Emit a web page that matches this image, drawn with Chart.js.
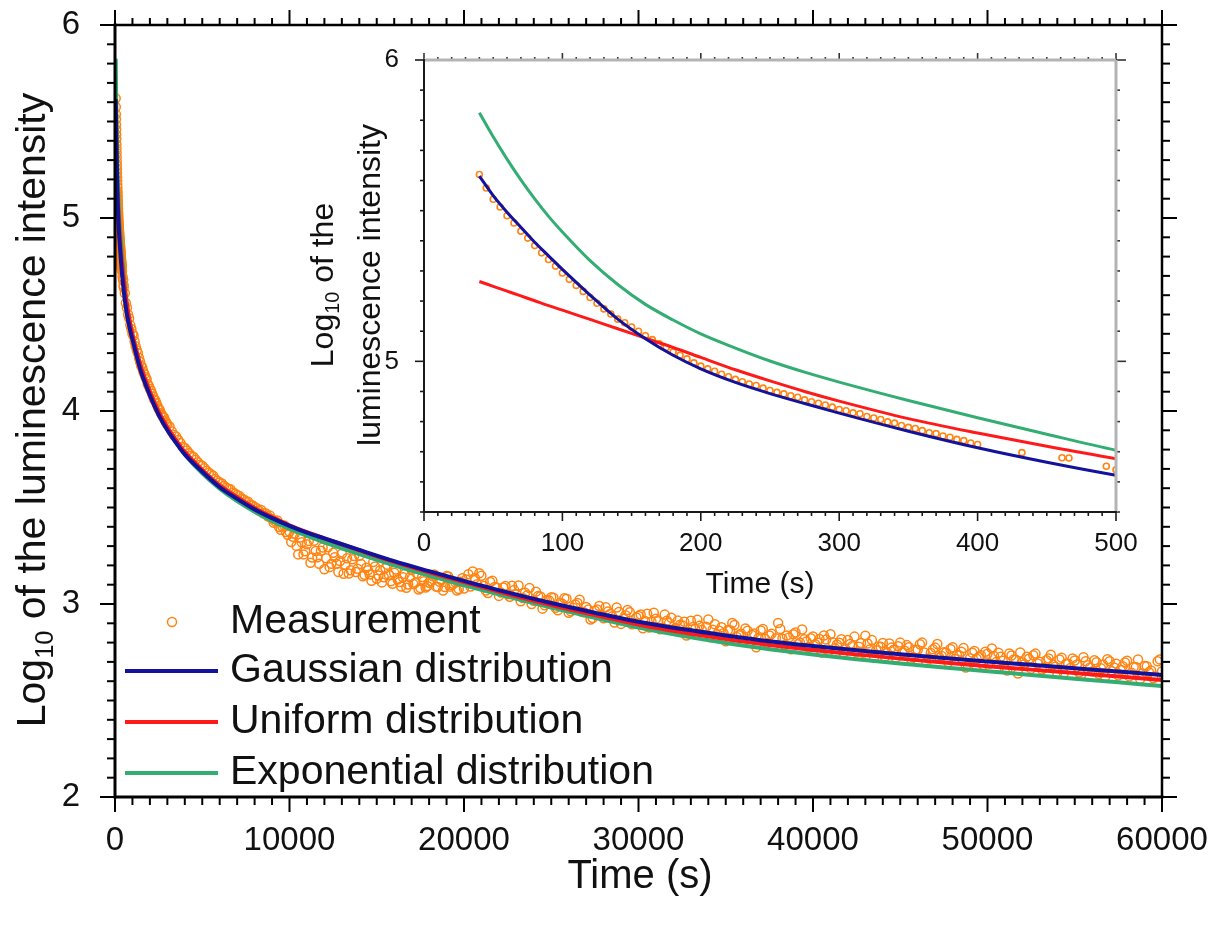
<!DOCTYPE html>
<html>
<head>
<meta charset="utf-8">
<title>Luminescence decay</title>
<script src="https://cdn.jsdelivr.net/npm/chart.js@4.4.1/dist/chart.umd.min.js"></script>
<style>
  body { margin: 0; background: #fff; }
  #wrap { position: relative; width: 1216px; height: 926px; }
  #mainChart { position: absolute; left: 0; top: 0; }
  #insetChart { position: absolute; left: 300px; top: 20px; }
</style>
</head>
<body>
<div id="wrap">
  <canvas id="mainChart" width="1216" height="926"></canvas>
  <canvas id="insetChart" width="880" height="600"></canvas>
</div>
<script>
// Fitted curves (log10 of intensity)
const fitTime = [40, 50, 60, 70, 80, 90, 100, 120, 140, 160, 180, 200, 225, 250, 275, 300, 350, 400, 450, 500,
  600, 700, 850, 1000, 1250, 1500, 2000, 2500, 3000, 3500, 4000, 5000, 6000, 7000, 8000, 9000, 10000,
  11000, 12000, 14000, 16000, 18000, 20000,
  22500, 25000, 27500, 30000, 32500, 35000, 37500, 40000, 42500, 45000, 47500, 50000, 52500, 55000, 57500, 60000];

const gaussianFit = [5.615, 5.55, 5.495, 5.445, 5.395, 5.35, 5.305, 5.22, 5.14, 5.075, 5.02, 4.975, 4.93, 4.893, 4.86, 4.828, 4.768, 4.713, 4.665, 4.622,
  4.55, 4.49, 4.425, 4.37, 4.28, 4.2, 4.08, 3.98, 3.9, 3.835, 3.775, 3.685, 3.605, 3.545, 3.49, 3.445, 3.405,
  3.37, 3.34, 3.28, 3.222, 3.17, 3.12,
  3.06, 3.005, 2.955, 2.908, 2.87, 2.837, 2.807, 2.782, 2.76, 2.74, 2.72, 2.702, 2.685, 2.667, 2.65, 2.632];

const uniformFit = [5.265, 5.249, 5.233, 5.217, 5.201, 5.185, 5.17, 5.139, 5.108, 5.077, 5.046, 5.013, 4.972, 4.935, 4.9, 4.868, 4.81, 4.762, 4.718, 4.677,
  4.605, 4.54, 4.46, 4.395, 4.305, 4.225, 4.1, 3.997, 3.915, 3.848, 3.788, 3.695, 3.615, 3.553, 3.497, 3.45, 3.408,
  3.372, 3.34, 3.278, 3.218, 3.164, 3.113,
  3.052, 2.995, 2.943, 2.894, 2.853, 2.818, 2.788, 2.762, 2.739, 2.717, 2.697, 2.678, 2.66, 2.642, 2.624, 2.606];

const exponentialFit = [5.825, 5.745, 5.671, 5.602, 5.539, 5.481, 5.429, 5.334, 5.255, 5.189, 5.137, 5.091, 5.044, 5.001, 4.964, 4.931, 4.87, 4.813, 4.758, 4.705,
  4.615, 4.54, 4.46, 4.395, 4.30, 4.222, 4.095, 3.993, 3.907, 3.836, 3.775, 3.677, 3.598, 3.533, 3.478, 3.43, 3.39,
  3.353, 3.32, 3.258, 3.2, 3.147, 3.097,
  3.038, 2.982, 2.928, 2.878, 2.835, 2.798, 2.766, 2.738, 2.714, 2.692, 2.671, 2.652, 2.632, 2.613, 2.594, 2.575];

// Measured points, first pass
const measTime = [40, 45, 50, 55, 60, 65, 70, 75, 80, 85, 90, 95, 100, 105, 110, 115, 120, 125, 130, 135,
  140, 145, 150, 155, 160, 165, 170, 175, 180, 185, 190, 195, 200, 205, 210, 215, 220, 225, 230, 235,
  240, 245, 250, 255, 260, 265, 270, 275, 280, 285, 290, 295, 300, 305, 310, 315, 320, 325, 330, 335,
  340, 345, 350, 355, 360, 365, 370, 375, 380, 385, 390, 395, 400, 432, 461, 466, 493,
  500, 625, 750, 875, 1000, 1125, 1250, 1375, 1500, 1625, 1750, 1875, 2000, 2125, 2250, 2375, 2500, 2625, 2750, 2875, 3000,
  3250, 3500, 3750, 4000, 4250, 4500, 4750, 5000, 5250, 5500, 5750, 6000, 6250, 6500, 6750, 7000, 7250, 7500, 7750, 8000,
  8250, 8500, 8750, 9000,
  9200, 9400, 9600, 9800, 10000, 10200, 10400, 10600, 10800, 11000, 11200, 11400, 11600, 11800, 12000,
  12200, 12400, 12600, 12800, 13000, 13200, 13400, 13600, 13800, 14000, 14200, 14400, 14600, 14800, 15000,
  15200, 15400, 15600, 15800, 16000, 16200, 16400, 16600, 16800, 17000, 17200, 17400, 17600, 17800, 18000,
  18200, 18400, 18600, 18800, 19000, 19200, 19400, 19600, 19800, 20000,
  20250, 20500, 20750, 21000, 21250, 21500, 21750, 22000, 22250, 22500, 22750, 23000, 23250, 23500, 23750, 24000,
  24250, 24500, 24750, 25000, 25250, 25500, 25750, 26000, 26250, 26500, 26750, 27000, 27250, 27500, 27750, 28000,
  28250, 28500, 28750, 29000, 29250, 29500, 29750, 30000, 30250, 30500, 30750, 31000, 31250, 31500, 31750, 32000,
  32250, 32500, 32750, 33000, 33250, 33500, 33750, 34000, 34250, 34500, 34750, 35000, 35250, 35500, 35750, 36000,
  36250, 36500, 36750, 37000, 37250, 37500, 37750, 38000, 38250, 38500, 38750, 39000, 39250, 39500, 39750, 40000,
  40250, 40500, 40750, 41000, 41250, 41500, 41750, 42000, 42250, 42500, 42750, 43000, 43250, 43500, 43750, 44000,
  44250, 44500, 44750, 45000, 45250, 45500, 45750, 46000, 46250, 46500, 46750, 47000, 47250, 47500, 47750, 48000,
  48250, 48500, 48750, 49000, 49250, 49500, 49750, 50000, 50250, 50500, 50750, 51000, 51250, 51500, 51750, 52000,
  52250, 52500, 52750, 53000, 53250, 53500, 53750, 54000, 54250, 54500, 54750, 55000, 55250, 55500, 55750, 56000,
  56250, 56500, 56750, 57000, 57250, 57500, 57750, 58000, 58250, 58500, 58750, 59000, 59250, 59500, 59750, 60000];

const measLog = [5.620, 5.575, 5.538, 5.512, 5.483, 5.459, 5.432, 5.409, 5.384, 5.360,
  5.338, 5.316, 5.293, 5.272, 5.252, 5.232, 5.212, 5.193, 5.174, 5.157,
  5.140, 5.128, 5.114, 5.100, 5.085, 5.072, 5.058, 5.046, 5.031, 5.020,
  5.008, 4.995, 4.984, 4.975, 4.967, 4.957, 4.949, 4.940, 4.932, 4.925,
  4.920, 4.911, 4.903, 4.897, 4.892, 4.886, 4.881, 4.872, 4.866, 4.861,
  4.855, 4.848, 4.840, 4.836, 4.829, 4.826, 4.817, 4.812, 4.807, 4.799,
  4.795, 4.787, 4.781, 4.777, 4.770, 4.763, 4.760, 4.752, 4.748, 4.741,
  4.737, 4.729, 4.724, 4.697, 4.680, 4.679, 4.652,
  4.64, 4.56, 4.50, 4.445, 4.40, 4.36, 4.315, 4.275, 4.235, 4.205, 4.175, 4.14, 4.115, 4.09, 4.06, 4.04, 4.012, 3.99, 3.972, 3.95, 3.93,
  3.895, 3.868, 3.834, 3.808, 3.781, 3.762, 3.735, 3.716, 3.690, 3.672, 3.648, 3.630, 3.612, 3.597, 3.578, 3.565, 3.546, 3.532, 3.514, 3.502,
  3.484, 3.470, 3.455, 3.441,
  3.427, 3.399, 3.401, 3.373, 3.375, 3.348, 3.301, 3.344, 3.257, 3.31, 3.214, 3.328, 3.242, 3.276, 3.18,
  3.294, 3.208, 3.242, 3.166, 3.26, 3.204, 3.158, 3.232, 3.166, 3.25, 3.144, 3.188, 3.153, 3.217, 3.131,
  3.175, 3.139, 3.204, 3.118, 3.162, 3.127, 3.091, 3.156, 3.101, 3.176, 3.11, 3.075, 3.14, 3.085, 3.11,
  3.145, 3.09, 3.115, 3.07, 3.145, 3.09, 3.105, 3.07, 3.115, 3.08,
  3.154, 3.168, 3.102, 3.146, 3.070, 3.114, 3.088, 3.042, 3.086, 3.050, 3.095, 3.049, 3.014, 3.058, 3.083, 3.017,
  3.042, 2.976, 3.021, 3.035, 2.980, 3.005, 3.030, 2.955, 2.980, 3.005, 2.960, 2.985, 2.920, 2.965, 2.990, 2.926,
  2.961, 2.936, 2.982, 2.897, 2.942, 2.957, 2.903, 2.938, 2.874, 2.950, 2.907, 2.923, 2.869, 2.945, 2.901, 2.868,
  2.914, 2.890, 2.837, 2.913, 2.870, 2.887, 2.834, 2.920, 2.867, 2.844, 2.880, 2.807, 2.864, 2.891, 2.838, 2.805,
  2.862, 2.839, 2.776, 2.863, 2.820, 2.837, 2.785, 2.902, 2.820, 2.837, 2.765, 2.852, 2.800, 2.817, 2.775, 2.832,
  2.800, 2.748, 2.816, 2.843, 2.771, 2.799, 2.747, 2.814, 2.782, 2.750, 2.798, 2.836, 2.764, 2.722, 2.780, 2.798,
  2.746, 2.774, 2.722, 2.800, 2.758, 2.776, 2.724, 2.762, 2.800, 2.698, 2.746, 2.774, 2.722, 2.750, 2.698, 2.776,
  2.735, 2.753, 2.671, 2.719, 2.757, 2.726, 2.684, 2.742, 2.770, 2.699, 2.727, 2.665, 2.744, 2.712, 2.640, 2.698,
  2.727, 2.665, 2.743, 2.701, 2.670, 2.718, 2.686, 2.644, 2.722, 2.691, 2.669, 2.707, 2.645, 2.724, 2.682, 2.650,
  2.698, 2.667, 2.625, 2.703, 2.671, 2.630, 2.678, 2.706, 2.644, 2.673, 2.611, 2.679, 2.647, 2.615, 2.704, 2.652];

// Measured points, in-between samples
const measTimeB = [562, 687, 812, 937, 1062, 1187, 1312, 1437, 1562, 1687, 1812, 1937, 2062, 2187, 2312, 2437, 2562, 2687, 2812, 2937,
  3125, 3375, 3625, 3875, 4125, 4375, 4625, 4875, 5125, 5375, 5625, 5875, 6125, 6375, 6625, 6875, 7125, 7375, 7625, 7875,
  8125, 8375, 8625, 8875,
  9100, 9300, 9500, 9700, 9900, 10100, 10300, 10500, 10700, 10900, 11100, 11300, 11500, 11700, 11900,
  12100, 12300, 12500, 12700, 12900, 13100, 13300, 13500, 13700, 13900, 14100, 14300, 14500, 14700, 14900,
  15100, 15300, 15500, 15700, 15900, 16100, 16300, 16500, 16700, 16900, 17100, 17300, 17500, 17700, 17900,
  18100, 18300, 18500, 18700, 18900, 19100, 19300, 19500, 19700, 19900,
  20125, 20375, 20625, 20875, 21125, 21375, 21625, 21875, 22125, 22375, 22625, 22875, 23125, 23375, 23625, 23875,
  24125, 24375, 24625, 24875, 25125, 25375, 25625, 25875, 26125, 26375, 26625, 26875, 27125, 27375, 27625, 27875,
  28125, 28375, 28625, 28875, 29125, 29375, 29625, 29875, 30125, 30375, 30625, 30875, 31125, 31375, 31625, 31875,
  32125, 32375, 32625, 32875, 33125, 33375, 33625, 33875, 34125, 34375, 34625, 34875, 35125, 35375, 35625, 35875,
  36125, 36375, 36625, 36875, 37125, 37375, 37625, 37875, 38125, 38375, 38625, 38875, 39125, 39375, 39625, 39875,
  40125, 40375, 40625, 40875, 41125, 41375, 41625, 41875, 42125, 42375, 42625, 42875, 43125, 43375, 43625, 43875,
  44125, 44375, 44625, 44875, 45125, 45375, 45625, 45875, 46125, 46375, 46625, 46875, 47125, 47375, 47625, 47875,
  48125, 48375, 48625, 48875, 49125, 49375, 49625, 49875, 50125, 50375, 50625, 50875, 51125, 51375, 51625, 51875,
  52125, 52375, 52625, 52875, 53125, 53375, 53625, 53875, 54125, 54375, 54625, 54875, 55125, 55375, 55625, 55875,
  56125, 56375, 56625, 56875, 57125, 57375, 57625, 57875, 58125, 58375, 58625, 58875, 59125, 59375, 59625, 59875];

const measLogB = [4.61, 4.535, 4.48, 4.425, 4.39, 4.335, 4.30, 4.255, 4.225, 4.19, 4.165, 4.13, 4.105, 4.075, 4.055, 4.025, 4.005, 3.98, 3.965, 3.94,
  3.92, 3.876, 3.85, 3.815, 3.795, 3.768, 3.748, 3.722, 3.703, 3.68, 3.665, 3.638, 3.625, 3.603, 3.594, 3.572, 3.56, 3.542, 3.53, 3.512,
  3.496, 3.487, 3.47, 3.458,
  3.421, 3.433, 3.385, 3.407, 3.359, 3.321, 3.364, 3.257, 3.32, 3.273, 3.327, 3.241, 3.275, 3.209, 3.293,
  3.237, 3.191, 3.265, 3.209, 3.223, 3.157, 3.237, 3.175, 3.249, 3.183, 3.207, 3.151, 3.175, 3.12, 3.194,
  3.148, 3.112, 3.186, 3.151, 3.105, 3.179, 3.114, 3.139, 3.084, 3.138, 3.103, 3.158, 3.083, 3.118, 3.093,
  3.118, 3.153, 3.088, 3.123, 3.088, 3.143, 3.098, 3.113, 3.078, 3.133,
  3.127, 3.091, 3.135, 3.159, 3.093, 3.057, 3.121, 3.085, 3.059, 3.093, 3.037, 3.072, 3.096, 3.031, 3.045, 3.000,
  3.064, 3.039, 2.993, 3.018, 3.032, 2.967, 3.002, 3.027, 2.962, 2.997, 3.022, 2.957, 2.972, 2.927, 2.972, 2.938,
  2.983, 2.948, 2.904, 2.959, 2.924, 2.969, 2.895, 2.930, 2.946, 2.912, 2.878, 2.955, 2.911, 2.877, 2.913, 2.929,
  2.876, 2.892, 2.908, 2.855, 2.881, 2.918, 2.865, 2.882, 2.828, 2.895, 2.862, 2.848, 2.865, 2.902, 2.829, 2.846,
  2.873, 2.800, 2.847, 2.824, 2.871, 2.798, 2.846, 2.823, 2.871, 2.788, 2.826, 2.843, 2.791, 2.868, 2.806, 2.823,
  2.791, 2.819, 2.837, 2.754, 2.802, 2.790, 2.818, 2.765, 2.793, 2.831, 2.779, 2.747, 2.795, 2.813, 2.761, 2.779,
  2.727, 2.795, 2.763, 2.781, 2.749, 2.787, 2.715, 2.763, 2.791, 2.749, 2.717, 2.765, 2.793, 2.731, 2.749, 2.767,
  2.715, 2.734, 2.772, 2.680, 2.748, 2.716, 2.735, 2.753, 2.691, 2.730, 2.748, 2.706, 2.655, 2.733, 2.711, 2.749,
  2.688, 2.716, 2.734, 2.692, 2.660, 2.709, 2.737, 2.675, 2.713, 2.642, 2.690, 2.718, 2.686, 2.635, 2.703, 2.671,
  2.709, 2.638, 2.686, 2.714, 2.652, 2.691, 2.659, 2.697, 2.625, 2.674, 2.712, 2.640, 2.678, 2.656, 2.625, 2.713];

// Tick labels
const mainXTicks = [0, 10000, 20000, 30000, 40000, 50000, 60000];
const mainYTicks = [2, 3, 4, 5, 6];
const insetXTicks = [0, 100, 200, 300, 400, 500];
const insetYTicks = [5, 6];

const seriesNames = ['Measurement', 'Gaussian distribution', 'Uniform distribution', 'Exponential distribution'];

const FONT = "'Liberation Sans', Arial, Helvetica, sans-serif";
const ORANGE = '#ff8412';
const BLUE = '#12129c';
const RED = '#ff1a1a';
const GREEN = '#33ad72';

Chart.defaults.font.family = FONT;
Chart.defaults.color = '#111';

const toPoints = (xs, ys) => xs.map((t, i) => ({ x: t, y: ys[i] }));

function makeDatasets(pointR, pointW, lineW) {
  const line = (label, ys, color, order) => ({
    label: label,
    data: toPoints(fitTime, ys),
    showLine: true,
    borderColor: color,
    backgroundColor: color,
    borderWidth: lineW,
    pointRadius: 0,
    cubicInterpolationMode: 'monotone',
    order: order
  });
  return [
    {
      label: seriesNames[0],
      data: toPoints(measTime, measLog).concat(toPoints(measTimeB, measLogB)),
      showLine: false,
      pointStyle: 'circle',
      pointRadius: pointR,
      pointBorderWidth: pointW,
      pointBorderColor: ORANGE,
      pointBackgroundColor: 'rgba(255,255,255,0)',
      order: 4
    },
    line(seriesNames[1], gaussianFit, BLUE, 1),
    line(seriesNames[2], uniformFit, RED, 2),
    line(seriesNames[3], exponentialFit, GREEN, 3)
  ];
}

// draws a text made of pieces, some of them as subscripts
function drawRich(ctx, parts, cx, cy, size, angle) {
  const fontFor = (sub) => (sub ? size * 0.62 : size) + 'px ' + FONT;
  let w = 0;
  parts.forEach(p => { ctx.font = fontFor(p[1]); w += ctx.measureText(p[0]).width; });
  ctx.save();
  ctx.translate(cx, cy);
  ctx.rotate(angle);
  ctx.fillStyle = '#111';
  ctx.textAlign = 'left';
  ctx.textBaseline = 'alphabetic';
  let x = -w / 2;
  parts.forEach(p => {
    ctx.font = fontFor(p[1]);
    ctx.fillText(p[0], x, p[1] ? size * 0.2 : 0);
    x += ctx.measureText(p[0]).width;
  });
  ctx.restore();
}

// frame lines and major / minor tick marks on the four sides
const frameTicks = {
  id: 'frameTicks',
  afterDatasetsDraw(chart, args, o) {
    const { ctx, chartArea: a, scales: { x, y } } = chart;
    ctx.save();
    ctx.lineCap = 'butt';
    const seg = (color, width, x1, y1, x2, y2) => {
      ctx.strokeStyle = color;
      ctx.lineWidth = width;
      ctx.beginPath();
      ctx.moveTo(x1, y1);
      ctx.lineTo(x2, y2);
      ctx.stroke();
    };
    const isMajor = (v, step) => Math.abs(v / step - Math.round(v / step)) < 1e-6;

    const nx = Math.round((x.max - x.min) / o.xMinor);
    for (let i = 0; i <= nx; i++) {
      const v = x.min + i * o.xMinor;
      const px = x.getPixelForValue(v);
      const maj = isMajor(v, o.xMajor);
      const b = o.bottom, t = o.top;
      seg(b.tick, o.tickWidth, px, a.bottom, px, a.bottom + (maj ? b.major : b.minor));
      seg(t.tick, o.tickWidth, px, a.top, px, a.top - (maj ? t.major : t.minor));
    }
    const ny = Math.round((y.max - y.min) / o.yMinor);
    for (let i = 0; i <= ny; i++) {
      const v = y.min + i * o.yMinor;
      const py = y.getPixelForValue(v);
      const maj = isMajor(v, o.yMajor);
      const l = o.left, r = o.right;
      seg(l.tick, o.tickWidth, a.left, py, a.left - (maj ? l.major : l.minor), py);
      seg(r.tick, o.tickWidth, a.right, py, a.right + (maj ? r.major : r.minor), py);
    }
    seg(o.top.color, o.top.width, a.left, a.top, a.right, a.top);
    seg(o.right.color, o.right.width, a.right, a.top, a.right, a.bottom);
    seg(o.left.color, o.left.width, a.left, a.top - o.left.width / 2, a.left, a.bottom + o.left.width / 2);
    seg(o.bottom.color, o.bottom.width, a.left, a.bottom, a.right + o.bottom.width / 2, a.bottom);
    ctx.restore();
  }
};

// axis titles
const axisTitles = {
  id: 'axisTitles',
  afterDraw(chart, args, o) {
    const ctx = chart.ctx;
    ctx.save();
    ctx.fillStyle = '#111';
    ctx.font = o.xSize + 'px ' + FONT;
    ctx.textAlign = 'center';
    ctx.textBaseline = 'middle';
    ctx.fillText(o.xText, o.xPos[0], o.xPos[1]);
    ctx.restore();
    o.yLines.forEach((parts, i) => {
      drawRich(ctx, parts, o.yBase[i], o.yCenter, o.ySize, -Math.PI / 2);
    });
  }
};

// legend inside the main plot
const legendBox = {
  id: 'legendBox',
  afterDraw(chart, args, o) {
    if (!o.show) return;
    const ctx = chart.ctx;
    ctx.save();
    chart.data.datasets.forEach((ds, i) => {
      const y = o.rows[i];
      if (ds.showLine) {
        ctx.strokeStyle = ds.borderColor;
        ctx.lineWidth = 4;
        ctx.beginPath();
        ctx.moveTo(o.lineX[0], y);
        ctx.lineTo(o.lineX[1], y);
        ctx.stroke();
      } else {
        ctx.strokeStyle = ds.pointBorderColor;
        ctx.lineWidth = 1.5;
        ctx.beginPath();
        ctx.arc(o.markerX, y, 4.5, 0, Math.PI * 2);
        ctx.stroke();
      }
      ctx.fillStyle = '#111';
      ctx.font = o.size + 'px ' + FONT;
      ctx.textAlign = 'left';
      ctx.textBaseline = 'middle';
      ctx.fillText(ds.label, o.textX, y);
    });
    ctx.restore();
  }
};

const plainLabel = (v) => String(v);
const fixX = (h) => (s) => { s.height = h; s.paddingLeft = 0; s.paddingRight = 0; };
const fixY = (w) => (s) => { s.width = w; s.paddingTop = 0; s.paddingBottom = 0; };

// Main chart
const mainChart = new Chart(document.getElementById('mainChart'), {
  type: 'scatter',
  data: { datasets: makeDatasets(4.5, 1.5, 4) },
  plugins: [frameTicks, axisTitles, legendBox],
  options: {
    responsive: false,
    animation: false,
    events: [],
    layout: { padding: { top: 25, right: 54, left: 0, bottom: 0 } },
    scales: {
      x: {
        type: 'linear', min: 0, max: 60000,
        grid: { display: false }, border: { display: false },
        afterBuildTicks: (s) => { s.ticks = mainXTicks.map(v => ({ value: v })); },
        afterFit: fixX(129),
        ticks: { font: { size: 33 }, padding: 16, maxRotation: 0, callback: plainLabel }
      },
      y: {
        type: 'linear', min: 2, max: 6,
        grid: { display: false }, border: { display: false },
        afterBuildTicks: (s) => { s.ticks = mainYTicks.map(v => ({ value: v })); },
        afterFit: fixY(115),
        ticks: { font: { size: 33 }, padding: 27, callback: plainLabel }
      }
    },
    plugins: {
      legend: { display: false },
      tooltip: { enabled: false },
      frameTicks: {
        xMinor: 1000, xMajor: 10000, yMinor: 0.1, yMajor: 1, tickWidth: 2,
        left: { color: '#000', width: 3, tick: '#000', major: 15, minor: 8 },
        bottom: { color: '#000', width: 3, tick: '#000', major: 15, minor: 8 },
        top: { color: '#000', width: 2.5, tick: '#000', major: 15, minor: 7 },
        right: { color: '#000', width: 2.5, tick: '#000', major: 15, minor: 8 }
      },
      axisTitles: {
        xText: 'Time (s)', xSize: 40, xPos: [640, 877],
        yLines: [[['Log', false], ['10', true], [' of the luminescence intensity', false]]],
        yBase: [45], yCenter: 410, ySize: 41
      },
      legendBox: {
        show: true, rows: [622, 671, 722, 773], lineX: [125, 218], markerX: 172, textX: 230, size: 41
      }
    }
  }
});

// Inset chart (first 500 s)
const insetChart = new Chart(document.getElementById('insetChart'), {
  type: 'scatter',
  data: { datasets: makeDatasets(3, 1.6, 3) },
  plugins: [frameTicks, axisTitles],
  options: {
    responsive: false,
    animation: false,
    events: [],
    layout: { padding: { top: 40, right: 64, left: 0, bottom: 0 } },
    scales: {
      x: {
        type: 'linear', min: 0, max: 500,
        grid: { display: false }, border: { display: false },
        afterBuildTicks: (s) => { s.ticks = insetXTicks.map(v => ({ value: v })); },
        afterFit: fixX(108),
        ticks: { font: { size: 26 }, padding: 8, maxRotation: 0, callback: plainLabel }
      },
      y: {
        type: 'linear', min: 4.5, max: 6,
        grid: { display: false }, border: { display: false },
        afterBuildTicks: (s) => { s.ticks = insetYTicks.map(v => ({ value: v })); },
        afterFit: fixY(124),
        ticks: { font: { size: 26 }, padding: 17, callback: plainLabel }
      }
    },
    plugins: {
      legend: { display: false },
      tooltip: { enabled: false },
      frameTicks: {
        xMinor: 10, xMajor: 100, yMinor: 0.1, yMajor: 1, tickWidth: 1.6,
        left: { color: '#1a1a1a', width: 2, tick: '#1a1a1a', major: 9, minor: 4 },
        bottom: { color: '#1a1a1a', width: 2, tick: '#1a1a1a', major: 9, minor: 4 },
        top: { color: '#b4b4b4', width: 3, tick: '#333', major: 7, minor: 3 },
        right: { color: '#b4b4b4', width: 3, tick: '#333', major: 10, minor: 4 }
      },
      axisTitles: {
        xText: 'Time (s)', xSize: 30, xPos: [460, 565],
        yLines: [[['Log', false], ['10', true], [' of the', false]], [['luminescence intensity', false]]],
        yBase: [33, 80], yCenter: 265, ySize: 32
      }
    }
  }
});
</script>
</body>
</html>
